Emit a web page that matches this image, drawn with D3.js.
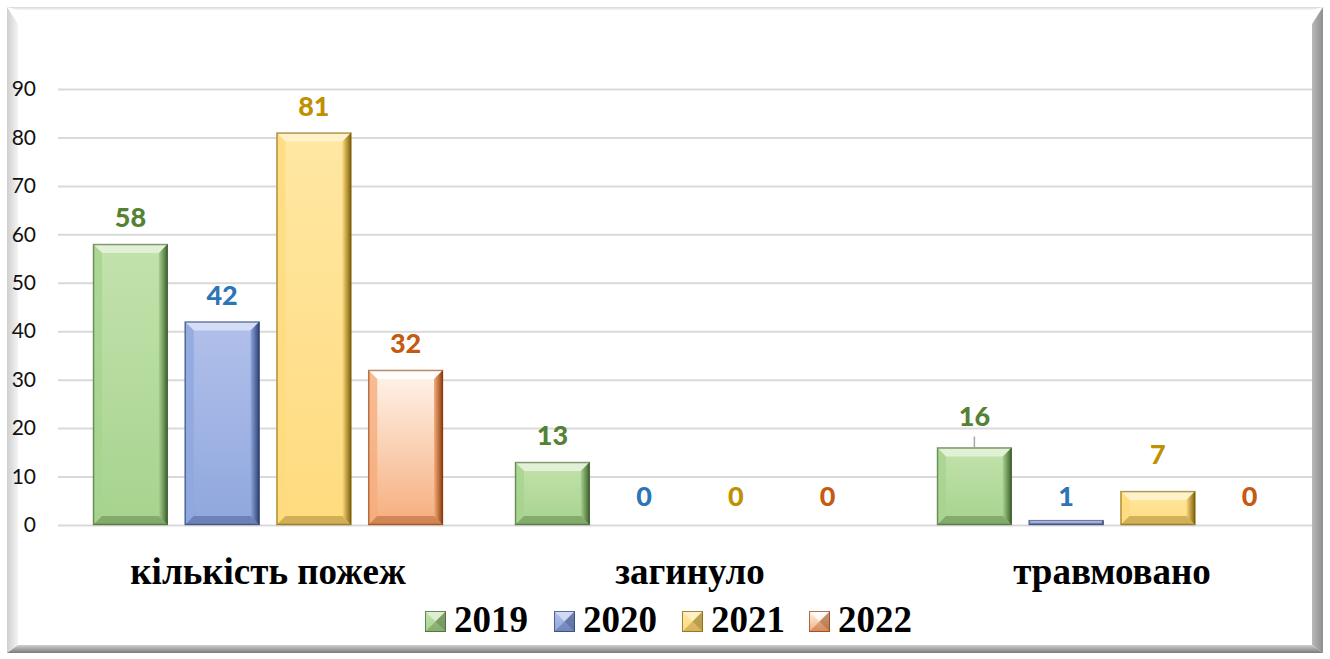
<!DOCTYPE html>
<html><head><meta charset="utf-8">
<script src="https://cdn.jsdelivr.net/npm/d3@7/dist/d3.min.js"></script>
<style>body{margin:0;background:#fff}svg{display:block}</style>
</head><body><svg id="c" width="1330" height="659"></svg>
<script>
const categories = ["кількість пожеж", "загинуло", "травмовано"];
const seriesNames = ["2019", "2020", "2021", "2022"];
const v2019 = [58, 13, 16];
const v2020 = [42, 0, 1];
const v2021 = [81, 0, 7];
const v2022 = [32, 0, 0];
const yTicks = [0, 10, 20, 30, 40, 50, 60, 70, 80, 90];
const seriesValues = [v2019, v2020, v2021, v2022];

const W = 1330, H = 659;
const svg = d3.select("#c");
const defs = svg.append("defs");

const pal = [
  {top:"#C3E2AD", bot:"#A6D38E", dark:"#3E5E2C", light:"#E4F3DA", lab:"#548235"},
  {top:"#B2C0EA", bot:"#8FA7DE", dark:"#2B3E6E", light:"#D8E0F6", lab:"#2E75B6"},
  {top:"#FFE7A3", bot:"#FFDB7E", dark:"#7A5E08", light:"#FFF3CF", lab:"#BF9000"},
  {top:"#FFF4EC", bot:"#F6AD7C", dark:"#8A3A0A", light:"#FFFFFF", lab:"#C55A11"}
];
pal.forEach((p,i)=>{
  const g = defs.append("linearGradient").attr("id","face"+i).attr("x1",0).attr("y1",0).attr("x2",0).attr("y2",1);
  g.append("stop").attr("offset","0%").attr("stop-color",p.top);
  g.append("stop").attr("offset","100%").attr("stop-color",p.bot);
  const r = defs.append("linearGradient").attr("id","rside"+i).attr("x1",0).attr("y1",0).attr("x2",1).attr("y2",0);
  r.append("stop").attr("offset","0%").attr("stop-color",p.bot);
  r.append("stop").attr("offset","100%").attr("stop-color",p.dark);
});
const lg = defs.append("linearGradient").attr("id","fl").attr("x1",0).attr("x2",1);
lg.append("stop").attr("offset","0%").attr("stop-color","#cfcfcf");
lg.append("stop").attr("offset","100%").attr("stop-color","#f4f4f4");
const rg = defs.append("linearGradient").attr("id","fr").attr("x1",0).attr("x2",1);
rg.append("stop").attr("offset","0%").attr("stop-color","#b8b8b8");
rg.append("stop").attr("offset","100%").attr("stop-color","#8e8e8e");
const bg = defs.append("linearGradient").attr("id","fb").attr("x1",0).attr("y1",0).attr("x2",0).attr("y2",1);
bg.append("stop").attr("offset","0%").attr("stop-color","#d0d0d0");
bg.append("stop").attr("offset","100%").attr("stop-color","#7a7a7a");
const tg = defs.append("linearGradient").attr("id","ft").attr("x1",0).attr("y1",0).attr("x2",0).attr("y2",1);
tg.append("stop").attr("offset","0%").attr("stop-color","#d8d8d8");
tg.append("stop").attr("offset","100%").attr("stop-color","#f6f6f6");

const fx0=7, fy0=7, fx1=1323, fy1=653, bl=11, br=11, bt=3, bb=8;
svg.append("rect").attr("x",fx0).attr("y",fy0).attr("width",fx1-fx0).attr("height",fy1-fy0).attr("fill","#fff");
svg.append("polygon").attr("points",`${fx0},${fy0} ${fx1},${fy0} ${fx1-br},${fy0+bt} ${fx0+bl},${fy0+bt}`).attr("fill","url(#ft)");
svg.append("polygon").attr("points",`${fx0},${fy0} ${fx0+bl},${fy0+bt+14} ${fx0+bl},${fy1-bb} ${fx0},${fy1}`).attr("fill","url(#fl)");
svg.append("polygon").attr("points",`${fx1},${fy0} ${fx1},${fy1} ${fx1-br},${fy1-bb} ${fx1-br},${fy0+bt+14}`).attr("fill","url(#fr)");
svg.append("polygon").attr("points",`${fx0},${fy1} ${fx0+bl},${fy1-bb} ${fx1-br},${fy1-bb} ${fx1},${fy1}`).attr("fill","url(#fb)");

const y = d3.scaleLinear().domain([0, 90]).range([525, 89]);
const x0 = d3.scaleBand().domain(categories).range([57, 1323]).padding(0);
const x1 = d3.scaleBand().domain(seriesNames).range([36, 386]).paddingInner(0.185).paddingOuter(0);

const grid = svg.append("g").attr("transform","translate(58,0)")
  .call(d3.axisLeft(y).tickValues(yTicks).tickSize(-(1312-58)).tickFormat(""));
grid.select(".domain").remove();
grid.selectAll("line").attr("stroke","#d9d9d9").attr("stroke-width",2);

const yax = svg.append("g").attr("transform","translate(36,0)")
  .call(d3.axisLeft(y).tickValues(yTicks).tickSize(0).tickPadding(0));
yax.select(".domain").remove();
yax.selectAll("text").attr("font-family","Lato, 'Open Sans', sans-serif").attr("font-size",21).attr("fill","#111");

const gb = 9;
seriesNames.forEach((s,si)=>{
  const p = pal[si];
  categories.forEach((c,ci)=>{
    const v = seriesValues[si][ci];
    const bx = x0(c) + x1(s), bw = x1.bandwidth();
    const top = y(v), bot = y(0), h = bot-top;
    if (h <= 0) return;
    const g = svg.append("g");
    const b = Math.min(gb, h/2, bw/2);
    g.append("rect").attr("x",bx).attr("y",top).attr("width",bw).attr("height",h).attr("fill","url(#face"+si+")");
    g.append("polygon").attr("points",`${bx},${top} ${bx+bw},${top} ${bx+bw-b},${top+b} ${bx+b},${top+b}`).attr("fill",p.light).attr("opacity",0.9);
    g.append("polygon").attr("points",`${bx},${top} ${bx+b},${top+b} ${bx+b},${bot-b} ${bx},${bot}`).attr("fill",p.bot).attr("opacity",0.8);
    g.append("polygon").attr("points",`${bx+bw},${top} ${bx+bw},${bot} ${bx+bw-b},${bot-b} ${bx+bw-b},${top+b}`).attr("fill","url(#rside"+si+")");
    g.append("polygon").attr("points",`${bx},${bot} ${bx+b},${bot-b} ${bx+bw-b},${bot-b} ${bx+bw},${bot}`).attr("fill",p.dark).attr("opacity",0.35);
    g.append("rect").attr("x",bx+0.5).attr("y",top+0.5).attr("width",bw-1).attr("height",h-1).attr("fill","none").attr("stroke",p.dark).attr("stroke-opacity",0.6).attr("stroke-width",1.5);
  });
});

seriesNames.forEach((s,si)=>{
  categories.forEach((c,ci)=>{
    const v = seriesValues[si][ci];
    const cx = x0(c) + x1(s) + x1.bandwidth()/2;
    let ly = y(v) - 17;
    if (v === 0) ly = 506;
    if (ci === 2 && si === 0) {
      ly = y(v) - 21;
      svg.append("line").attr("x1",cx).attr("x2",cx).attr("y1",y(v)-11).attr("y2",y(v)).attr("stroke","#a6a6a6").attr("stroke-width",1.5);
    }
    if (ci === 2 && si === 1) ly = 506;
    if (ci === 2 && si === 2) ly = 464;
    svg.append("text").attr("x",cx).attr("y",ly).attr("text-anchor","middle")
      .attr("font-family","Lato, 'Open Sans', sans-serif").attr("font-weight","900").attr("font-size",27)
      .attr("fill",pal[si].lab).text(v);
  });
});

const xax = svg.append("g").attr("transform","translate(0,584)")
  .call(d3.axisBottom(x0).tickSize(0).tickPadding(0));
xax.select(".domain").remove();
xax.selectAll("text").attr("dy",0).attr("font-family","'Liberation Serif', 'Times New Roman', serif").attr("font-weight","bold").attr("font-size",37).attr("fill","#000");

const legX = [425, 554, 682, 809];
seriesNames.forEach((s,si)=>{
  const p = pal[si];
  const lx = legX[si], ly = 611, sz = 21;
  const g = svg.append("g");
  g.append("rect").attr("x",lx).attr("y",ly).attr("width",sz).attr("height",sz).attr("fill","url(#face"+si+")");
  g.append("polygon").attr("points",`${lx},${ly} ${lx+sz},${ly} ${lx+sz/2},${ly+sz/2}`).attr("fill",p.light).attr("opacity",0.8);
  g.append("polygon").attr("points",`${lx+sz},${ly} ${lx+sz},${ly+sz} ${lx+sz/2},${ly+sz/2}`).attr("fill",p.dark).attr("opacity",0.5);
  g.append("polygon").attr("points",`${lx},${ly+sz} ${lx+sz},${ly+sz} ${lx+sz/2},${ly+sz/2}`).attr("fill",p.dark).attr("opacity",0.3);
  g.append("rect").attr("x",lx+0.5).attr("y",ly+0.5).attr("width",sz-1).attr("height",sz-1).attr("fill","none").attr("stroke",p.dark).attr("stroke-opacity",0.7);
  svg.append("text").attr("x",lx+29).attr("y",632).attr("font-family","'Liberation Serif', 'Times New Roman', serif")
    .attr("font-weight","bold").attr("font-size",37).attr("fill","#000").text(s);
});
</script></body></html>
